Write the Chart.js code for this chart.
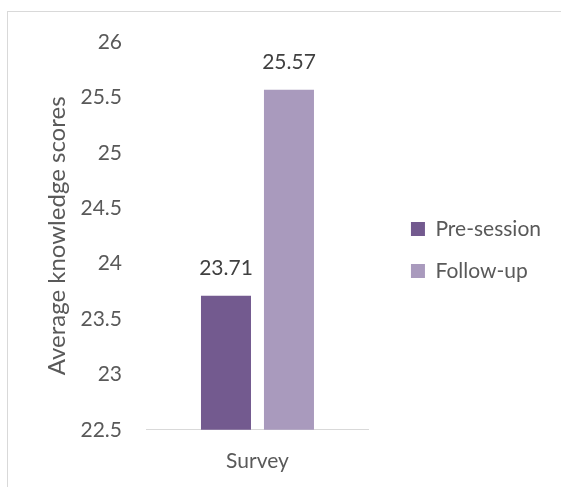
<!DOCTYPE html>
<html>
<head>
<meta charset="utf-8">
<script src="https://cdn.jsdelivr.net/npm/chart.js@4"></script>
<style>
  html, body { margin: 0; padding: 0; background: #fff; overflow: hidden; }
  #frame { position: absolute; left: 7px; top: 11px; width: 600px; height: 520px; border: 1px solid #d9d9d9; }
  #wrap { position: absolute; left: 0; top: 0; width: 561px; height: 487px; }
</style>
</head>
<body>
<div id="frame"></div>
<div id="wrap"><canvas id="myChart"></canvas></div>
<script>
const categories = ['Survey'];
const seriesNames = ['Pre-session', 'Follow-up'];
const preSession = [23.71];
const followUp = [25.57];
const yMin = 22.5, yMax = 26, yStep = 0.5;
const colors = ['#735a8f', '#a99abd'];

const textColor = '#595959';
const fontFamily = 'Lato, "Liberation Sans", sans-serif';
const fontSize = 21;

// draws the value above every bar
const barLabels = {
  id: 'barLabels',
  afterDatasetsDraw(chart) {
    const c = chart.ctx;
    c.save();
    c.font = fontSize + 'px ' + fontFamily;
    c.fillStyle = '#404040';
    c.textAlign = 'center';
    c.textBaseline = 'middle';
    chart.data.datasets.forEach((ds, i) => {
      chart.getDatasetMeta(i).data.forEach((bar, j) => {
        c.fillText(ds.data[j].toFixed(2), bar.x, bar.y - 27);
      });
    });
    c.restore();
  }
};

// the layout caps side boxes at a quarter of the width, let the legend be wider
const wideLegend = {
  id: 'wideLegend',
  beforeLayout(chart) {
    const lg = chart.legend;
    if (lg && !lg._wide) {
      const upd = lg.update;
      lg.update = function (maxWidth, maxHeight, margins) {
        return upd.call(this, 180, maxHeight, margins);
      };
      lg._wide = true;
    }
  }
};

function draw() {
  const ctx = document.getElementById('myChart').getContext('2d');
  new Chart(ctx, {
    type: 'bar',
    data: {
      labels: categories,
      datasets: [
        { label: seriesNames[0], data: preSession, backgroundColor: colors[0] },
        { label: seriesNames[1], data: followUp, backgroundColor: colors[1] }
      ]
    },
    options: {
      responsive: true,
      maintainAspectRatio: false,
      animation: false,
      categoryPercentage: 0.565,
      barPercentage: 0.794,
      layout: { padding: { top: 42, right: 10, bottom: 2, left: 0 } },
      plugins: {
        legend: {
          position: 'right',
          fullSize: false,
          title: { display: true, text: ' ', font: { size: 10 }, padding: 8 },
          labels: {
            boxWidth: 14,
            boxHeight: 14,
            padding: 21,
            color: textColor,
            font: { family: fontFamily, size: fontSize }
          }
        },
        tooltip: { enabled: false }
      },
      scales: {
        x: {
          grid: { display: false },
          border: { color: '#d9d9d9', width: 1 },
          ticks: { color: textColor, padding: 11, font: { family: fontFamily, size: fontSize } }
        },
        y: {
          min: yMin,
          max: yMax,
          grid: { display: false },
          border: { display: false },
          ticks: {
            stepSize: yStep,
            color: textColor,
            padding: 16,
            font: { family: fontFamily, size: fontSize },
            callback: v => String(+v.toFixed(1))
          },
          title: {
            display: true,
            text: 'Average knowledge scores',
            color: textColor,
            font: { family: fontFamily, size: 24 },
            padding: { top: 43, bottom: 0 }
          },
          afterFit(scale) { scale.width = 146; }
        },
        // empty gap between the plot and the legend
        gap: {
          position: 'right',
          grid: { display: false },
          border: { display: false },
          ticks: { display: false },
          afterFit(scale) { scale.width = 21; }
        }
      }
    },
    plugins: [barLabels, wideLegend]
  });
}

document.fonts.load(fontSize + 'px Lato').then(draw, draw);
</script>
</body>
</html>
